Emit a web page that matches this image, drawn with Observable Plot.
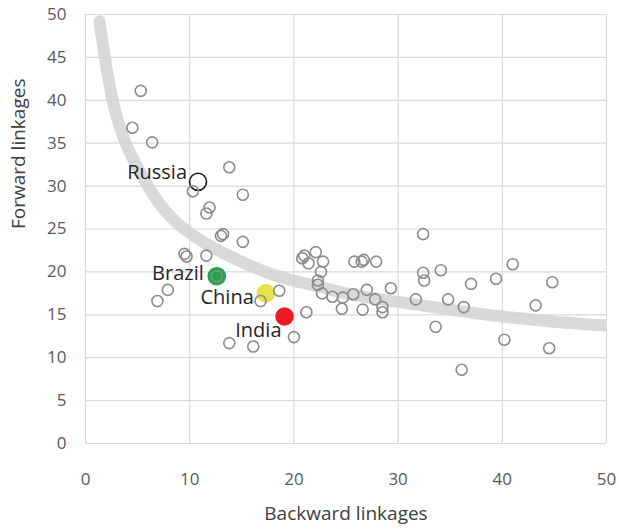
<!DOCTYPE html>
<html>
<head>
<meta charset="utf-8">
<script src="https://cdn.jsdelivr.net/npm/d3@7"></script>
<script src="https://cdn.jsdelivr.net/npm/@observablehq/plot@0.6"></script>
<style>
  html, body { margin: 0; padding: 0; background: #fff; }
  #chart { width: 619px; height: 530px; }
</style>
</head>
<body>
<div id="chart"></div>
<script>
// Economies: backward linkages (x) and forward linkages (y)
const backward = [5.3, 4.5, 6.4, 10.3, 13.8, 15.1, 11.9, 11.6, 13.0, 13.2, 15.1, 9.5, 9.7, 11.6, 12.6, 7.9, 6.9, 18.6, 16.8, 21.2, 20.0, 13.8, 16.1,
  20.8, 21.0, 21.4, 22.1, 22.8, 22.6, 22.3, 22.3, 22.7, 23.7, 24.7, 25.7, 27.0, 24.6, 26.6, 27.8, 28.5, 28.5, 25.8, 26.5, 26.7, 27.9, 29.3,
  31.7, 32.4, 32.4, 32.5, 34.1, 33.6, 34.8, 36.3, 36.1, 37.0, 39.4, 41.0, 40.2, 43.2, 44.8, 44.5];
const forward = [41.1, 36.8, 35.1, 29.4, 32.2, 29.0, 27.5, 26.8, 24.2, 24.4, 23.5, 22.1, 21.8, 21.9, 19.5, 17.9, 16.6, 17.8, 16.6, 15.3, 12.4, 11.7, 11.3,
  21.6, 21.9, 21.0, 22.3, 21.2, 20.0, 19.0, 18.5, 17.5, 17.1, 17.0, 17.4, 17.9, 15.7, 15.6, 16.8, 15.9, 15.3, 21.2, 21.2, 21.4, 21.2, 18.1,
  16.8, 24.4, 19.9, 19.0, 20.2, 13.6, 16.8, 15.9, 8.6, 18.6, 19.2, 20.9, 12.1, 16.1, 18.8, 11.1];

// Highlighted economies
const hlNames = ["Russia", "Brazil", "China", "India"];
const hlBackward = [10.8, 12.6, 17.3, 19.1];
const hlForward = [30.5, 19.5, 17.5, 14.8];
const hlFill = ["none", "#22a64a", "#e6e34a", "#ed1c24"];
const hlStroke = ["#1a1a1a", "#22a64a", "#e6e34a", "#ed1c24"];

// Trend band
const trendX = [1.34, 1.85, 2.6, 3.7, 5.0, 6.1, 7.8, 9.6, 11.7, 15.5, 18.7, 22, 25, 30, 35, 40, 45, 50];
const trendY = [49.2, 45.0, 40.0, 35.5, 32.2, 29.8, 26.9, 24.9, 23.2, 20.9, 19.4, 18.4, 17.5, 16.5, 15.6, 14.8, 14.2, 13.75];

const ticks = [0, 5, 10, 15, 20, 25, 30, 35, 40, 45, 50];
const xTicks = [0, 10, 20, 30, 40, 50];
const xTitle = "Backward linkages";
const yTitle = "Forward linkages";

const pts = backward.map((x, i) => ({x, y: forward[i]}));
const hl = hlNames.map((n, i) => ({name: n, x: hlBackward[i], y: hlForward[i], fill: hlFill[i], stroke: hlStroke[i]}));
const trend = trendX.map((x, i) => ({x, y: trendY[i]}));

const labelOffsets = {
  Russia: {dx: -11, dy: -9},
  Brazil: {dx: -13, dy: -3},
  China: {dx: -12, dy: 4},
  India: {dx: -3, dy: 14}
};

const chart = Plot.plot({
  width: 619,
  height: 530,
  marginLeft: 85,
  marginRight: 13,
  marginTop: 14,
  marginBottom: 87,
  style: {fontFamily: "'Open Sans', sans-serif", background: "#fff", overflow: "visible"},
  x: {domain: [0, 50]},
  y: {domain: [0, 50]},
  marks: [
    Plot.gridX(xTicks, {stroke: "#d9d9d9", strokeOpacity: 1, strokeWidth: 1.2}),
    Plot.gridY(ticks, {stroke: "#d9d9d9", strokeOpacity: 1, strokeWidth: 1.2}),
    Plot.axisX(xTicks, {tickSize: 0, tickPadding: 29, fontSize: 17, fill: "#595959", label: null}),
    Plot.axisY(ticks, {tickSize: 0, tickPadding: 19, fontSize: 17, fill: "#595959", label: null}),
    Plot.line(trend, {x: "x", y: "y", curve: "monotone-x", stroke: "#d2d2d2", strokeOpacity: 0.85, strokeWidth: 12, clip: true}),
    Plot.dot(hl, {x: "x", y: "y", r: 8.5, fill: "fill", stroke: "stroke", strokeWidth: 1.6}),
    Plot.dot(pts, {x: "x", y: "y", r: 5.5, fill: "none", stroke: "#8c8c8c", strokeWidth: 1.6}),
    ...hl.map(d => Plot.text([d], {x: "x", y: "y", text: "name", textAnchor: "end", fontSize: 20, fill: "#262626",
      dx: labelOffsets[d.name].dx, dy: labelOffsets[d.name].dy})),
    Plot.text([xTitle], {frameAnchor: "bottom", dy: 76, fontSize: 19, fill: "#404040"}),
    Plot.text([yTitle], {frameAnchor: "left", dx: -67, rotate: -90, fontSize: 19, fill: "#404040"})
  ]
});
document.getElementById("chart").append(chart);
</script>
</body>
</html>
